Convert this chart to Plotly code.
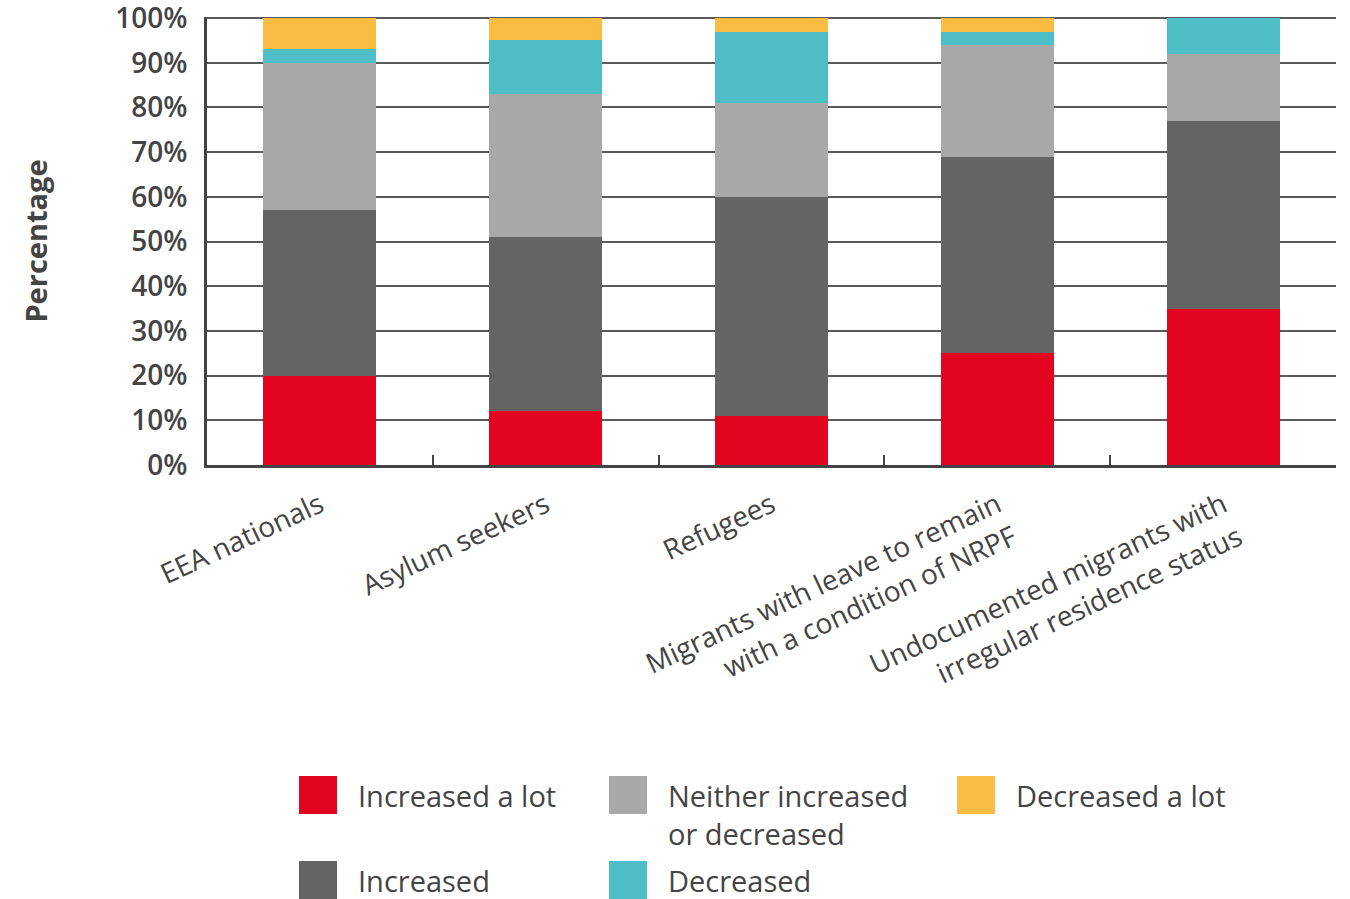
import plotly.graph_objects as go

categories = [
    "EEA nationals",
    "Asylum seekers",
    "Refugees",
    "Migrants with leave to remain<br>with a condition of NRPF",
    "Undocumented migrants with<br>irregular residence status",
]
series_names = [
    "Increased a lot",
    "Increased",
    "Neither increased<br>or decreased",
    "Decreased",
    "Decreased a lot",
]
increased_a_lot = [20, 12, 11, 25, 35]
increased = [37, 39, 49, 44, 42]
neither = [33, 32, 21, 25, 15]
decreased = [3, 12, 16, 3, 8]
decreased_a_lot = [7, 5, 3, 3, 0]
y_ticks = [0, 10, 20, 30, 40, 50, 60, 70, 80, 90, 100]
y_tick_labels = [f"{v}%" for v in y_ticks]

colors = ["#E30520", "#646464", "#A8A8A6", "#4EBEC6", "#FBBC43"]
values = [increased_a_lot, increased, neither, decreased, decreased_a_lot]

W, H = 1350, 899
L, R, T, B = 207, 14, 17, 434
pw, ph = W - L - R, H - T - B

def px_x(x):
    return (x - L) / pw

def px_y(y):
    return (H - B - y) / ph

fig = go.Figure()
for name, vals, col in zip(series_names, values, colors):
    fig.add_trace(go.Bar(
        x=categories, y=vals, name=name.replace("<br>", " "),
        marker=dict(color=col, line=dict(width=0)),
        showlegend=False,
    ))

text_color = "#444444"

fig.update_layout(
    width=W, height=H,
    barmode="stack", bargap=0.5,
    margin=dict(l=L, r=R, t=T, b=B, autoexpand=False),
    plot_bgcolor="white", paper_bgcolor="white",
    font=dict(family="Open Sans", color=text_color),
    xaxis=dict(
        automargin=False,
        tickangle=-25,
        tickfont=dict(family="Open Sans", size=28, color=text_color, weight=500),
        tickson="boundaries", ticks="inside", ticklen=10, tickwidth=2,
        tickcolor=text_color, ticklabelstandoff=10,
        showline=True, linecolor=text_color, linewidth=3,
        showgrid=False,
    ),
    yaxis=dict(
        automargin=False,
        range=[0, 100.25], tickvals=y_ticks, ticktext=y_tick_labels,
        tickfont=dict(family="Open Sans", size=28, color=text_color, weight=600),
        ticks="", ticklabelstandoff=11, ticklabeloverflow="allow",
        showline=True, linecolor=text_color, linewidth=3,
        showgrid=True, gridcolor="#5a5a5a", gridwidth=1.5,
        zeroline=False,
        title=dict(text="Percentage", font=dict(family="Open Sans", size=29, color=text_color, weight=700), standoff=60),
    ),
)

# Legend drawn as a grid (column-wise order as in the reference)
legend_slots = [(299, 776), (299, 861), (609, 776), (609, 861), (957, 776)]
sw = 38
for name, col, (sx, sy) in zip(series_names, colors, legend_slots):
    fig.add_shape(
        type="rect", xref="paper", yref="paper",
        x0=px_x(sx), x1=px_x(sx + sw), y0=px_y(sy), y1=px_y(sy + sw),
        fillcolor=col, line=dict(width=0),
    )
    fig.add_annotation(
        xref="paper", yref="paper",
        x=px_x(sx + 57), y=px_y(sy - 2),
        xanchor="left", yanchor="top", align="left",
        text=name, showarrow=False,
        font=dict(family="Open Sans", size=29, color=text_color, weight=500),
    )

fig.write_html("out.html")
